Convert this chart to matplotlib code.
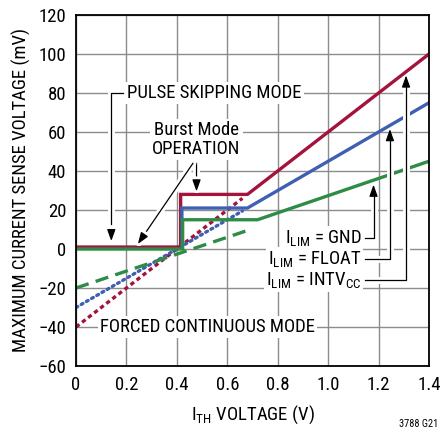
import matplotlib
matplotlib.use("Agg")
import matplotlib.pyplot as plt
import matplotlib.patheffects as pe
from matplotlib import font_manager

# condensed sans, first one found
names = {f.name for f in font_manager.fontManager.ttflist}
FONT = next((n for n in ["Roboto Condensed", "Archivo Narrow", "PT Sans Narrow",
                         "Liberation Sans"] if n in names), "DejaVu Sans")
plt.rcParams["font.family"] = [FONT, "DejaVu Sans"]
plt.rcParams["mathtext.fontset"] = "custom"
plt.rcParams["mathtext.rm"] = FONT
plt.rcParams["mathtext.it"] = FONT
plt.rcParams["mathtext.bf"] = FONT

# ---- data (V, mV) ----
red_x = [0.0, 0.415, 0.415, 0.68, 1.4]
red_y = [1.0, 1.0, 28.0, 28.0, 100.0]
red_fcm_x = [0.0, 0.66]
red_fcm_y = [-40.0, 26.0]

blue_x = [0.42, 0.42, 0.68, 1.4]
blue_y = [1.0, 21.0, 21.0, 75.0]
blue_fcm_x = [0.0, 0.66]
blue_fcm_y = [-30.0, 19.5]

green_x = [0.0, 0.423, 0.423, 0.72, 1.4]
green_y = [0.0, 0.0, 15.0, 15.0, 45.0]
green_fcm_x = [0.0, 0.68]
green_fcm_y = [-20.0, 9.5]

x_ticks = [0, 0.2, 0.4, 0.6, 0.8, 1.0, 1.2, 1.4]
x_labels = ["0", "0.2", "0.4", "0.6", "0.8", "1.0", "1.2", "1.4"]
y_ticks = [-60, -40, -20, 0, 20, 40, 60, 80, 100, 120]

RED = "#A3133B"
BLUE = "#3F60B2"
GREEN = "#2F8C47"

fig = plt.figure(figsize=(4.42, 4.32), dpi=100)
ax = fig.add_axes([76 / 442, 1 - 366 / 432, 353 / 442, 351 / 432])
ax.set_xlim(0, 1.4)
ax.set_ylim(-60, 120)
ax.set_xticks(x_ticks)
ax.set_xticklabels(x_labels)
ax.set_yticks(y_ticks)
ax.set_yticklabels([str(v).replace("-", "\u2212") for v in y_ticks])
ax.tick_params(length=0, labelsize=13.5, pad=7)
ax.grid(True, color="#8c8c8c", lw=1.0)
ax.set_axisbelow(True)
for s in ax.spines.values():
    s.set_linewidth(1.3)
    s.set_zorder(10)

lw = 2.4
ax.plot(red_fcm_x, red_fcm_y, color=RED, lw=lw, ls=(0, (1.3, 1.0)), zorder=3)
ax.plot(blue_fcm_x, blue_fcm_y, color=BLUE, lw=lw, ls=(0, (0.6, 1.2)),
        dash_capstyle="round", zorder=3)
ax.plot(green_fcm_x, green_fcm_y, color=GREEN, lw=lw, ls=(0, (4.0, 2.2)), zorder=3)
ax.plot(red_x, red_y, color=RED, lw=lw, zorder=4, solid_joinstyle="miter")
ax.plot(blue_x, blue_y, color=BLUE, lw=lw, zorder=4, solid_joinstyle="miter")
ax.plot(green_x, green_y, color=GREEN, lw=lw, zorder=5, solid_joinstyle="miter")

halo = [pe.withStroke(linewidth=5, foreground="white")]
box = dict(facecolor="white", edgecolor="none", pad=1.5)
fs = 13.5
ARROW = "-|>,head_length=0.7,head_width=0.25"


def arrow(x0, y0, x1, y1, halo_on=True):
    ax.annotate("", xy=(x1, y1), xytext=(x0, y0),
                arrowprops=dict(arrowstyle=ARROW, color="black", lw=0.9,
                                shrinkA=0, shrinkB=0,
                                path_effects=halo if halo_on else None),
                zorder=6)


# pulse skipping mode
ax.text(0.55, 80, "PULSE SKIPPING MODE", fontsize=fs, ha="center", va="center",
        bbox=box, zorder=7)
ax.plot([0.185, 0.14, 0.14], [80, 80, 10], color="black", lw=0.9, zorder=6,
        path_effects=halo)
arrow(0.14, 10.5, 0.14, 4)

# burst mode
ax.text(0.478, 56, "Burst Mode\nOPERATION", fontsize=fs, ha="center", va="center",
        linespacing=1.05, bbox=box, zorder=7)
arrow(0.478, 44, 0.478, 29.5)
arrow(0.464, 44, 0.245, 2.5)

# forced continuous mode
ax.text(0.52, -40, "FORCED CONTINUOUS MODE", fontsize=fs, ha="center", va="center",
        bbox=box, zorder=7)

# current limit labels
labels = [r"I$_{\mathrm{LIM}}$ = GND", r"I$_{\mathrm{LIM}}$ = FLOAT",
          r"I$_{\mathrm{LIM}}$ = INTV$_{\mathrm{CC}}$"]
label_y = [5.5, -5.0, -16.0]
arrow_x = [1.18, 1.245, 1.309]
tip_y = [33.0, 61.5, 89.0]
for lab, ly, axx, ty in zip(labels, label_y, arrow_x, tip_y):
    ax.text(1.132, ly, lab, fontsize=fs, ha="right", va="center", bbox=box, zorder=7)
    ax.plot([1.145, axx, axx], [ly, ly, ty - 5], color="black", lw=0.9, zorder=6,
            path_effects=halo)
    arrow(axx, ty - 5.5, axx, ty, halo_on=False)

ax.set_ylabel("MAXIMUM CURRENT SENSE VOLTAGE (mV)", fontsize=13.5, labelpad=5)
ax.set_xlabel(r"I$_{\mathrm{TH}}$ VOLTAGE (V)", fontsize=13.5, labelpad=7)
fig.text(438 / 442, 1 - 424 / 432, "3788 G21", fontsize=7.5, ha="right", va="center")

fig.savefig("out.png", dpi=100)
